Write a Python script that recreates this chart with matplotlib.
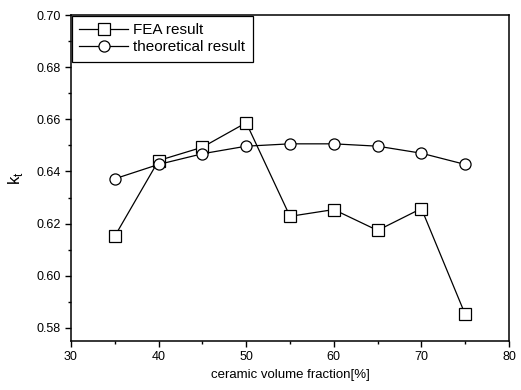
import numpy as np
import matplotlib
matplotlib.use("Agg")
import matplotlib.pyplot as plt
from matplotlib.ticker import MultipleLocator

plt.rcParams['font.family'] = ['Liberation Sans', 'DejaVu Sans']

# data
fraction = [35, 40, 45, 50, 55, 60, 65, 70, 75]
fea = [0.6152, 0.6442, 0.6493, 0.6587, 0.6228, 0.6254, 0.6174, 0.6258, 0.5852]
theory = [0.6372, 0.6427, 0.6468, 0.6497, 0.6506, 0.6506, 0.6497, 0.6470, 0.6427]

fig = plt.figure(figsize=(5.21, 3.90), dpi=100)
ax = fig.add_axes([71/521, 1 - 341/390, 438/521, 326/390])

ax.plot(fraction, fea, color='black', lw=0.9, marker='s', ms=8,
        mfc='white', mec='black', mew=0.9, label='FEA result')
ax.plot(fraction, theory, color='black', lw=0.9, marker='o', ms=8,
        mfc='white', mec='black', mew=0.9, label='theoretical result')

ax.set_xlim(30, 80)
ax.set_ylim(0.575, 0.70)
ax.xaxis.set_major_locator(MultipleLocator(10))
ax.xaxis.set_minor_locator(MultipleLocator(5))
ax.yaxis.set_major_locator(MultipleLocator(0.02))
ax.yaxis.set_minor_locator(MultipleLocator(0.01))
ax.yaxis.set_major_formatter(plt.FormatStrFormatter('%.2f'))
ax.tick_params(which='major', direction='out', length=4, width=1, labelsize=9)
ax.tick_params(which='minor', direction='out', length=2.5, width=1)
for s in ax.spines.values():
    s.set_linewidth(1.1)

ax.set_xlabel('ceramic volume fraction[%]', fontsize=9.5, labelpad=4)
ax.set_ylabel(r'k$_\mathregular{t}$', fontsize=12, labelpad=8)

# legend box sits in the top-left corner
leg = ax.legend(loc='upper left', borderaxespad=0.05, fancybox=False,
                edgecolor='black', framealpha=1, fontsize=11,
                handlelength=3.2, borderpad=0.5, labelspacing=0.2,
                handletextpad=0.3)
leg.get_frame().set_linewidth(0.9)

fig.savefig('out.png', dpi=100)
